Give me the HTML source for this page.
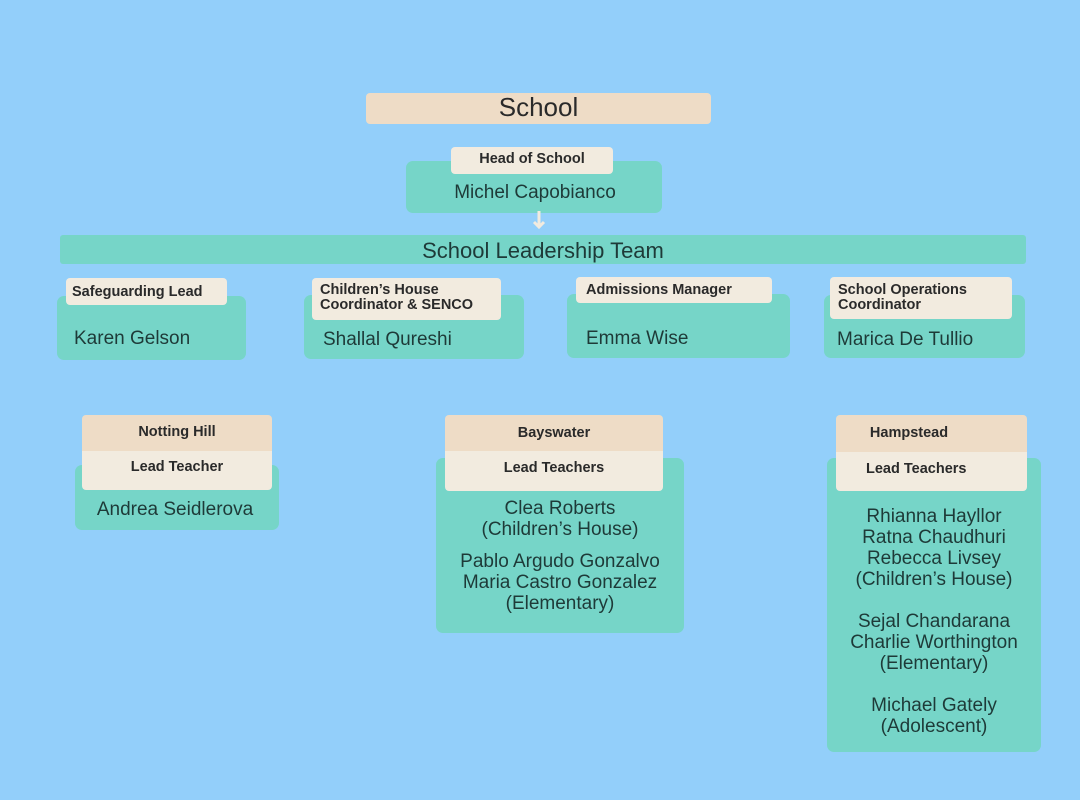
<!DOCTYPE html>
<html><head><style>
body{margin:0;width:1080px;height:800px;background:#93CFFA;position:relative;overflow:hidden;font-family:"Liberation Sans",sans-serif;color:#233;}
.a{position:absolute;box-sizing:border-box;}
.t{background:#76D5C8;border-radius:7px;}
.l{background:#F2EBDF;border-radius:4px;font-weight:bold;font-size:14.5px;color:#2a2a2a;line-height:15px;}
.h{background:#EEDCC6;border-radius:4px;font-weight:bold;font-size:14.5px;color:#2a2a2a;text-align:center;}
.n{font-size:19px;color:#1e3a38;}
.c{text-align:center;}
</style></head><body>
<div class="a h" style="left:366px;top:93px;width:345px;height:31px;font-size:26px;font-weight:normal;line-height:29px;">School</div>

<div class="a t" style="left:406px;top:161px;width:256px;height:52px;"></div>
<div class="a l c" style="left:451px;top:147px;width:162px;height:27px;line-height:24px;">Head of School</div>
<div class="a n c" style="left:406px;top:182px;width:258px;">Michel Capobianco</div>
<svg class="a" style="left:530px;top:208px" width="18" height="24"><path d="M9 3V19M4 14L9 19L14 14" stroke="#F2EBDF" stroke-width="3" fill="none"/></svg>

<div class="a t c" style="left:60px;top:235px;width:966px;height:29px;border-radius:3px;font-size:22px;line-height:31px;color:#1e3a38;">School Leadership Team</div>

<div class="a t" style="left:57px;top:296px;width:189px;height:64px;"></div>
<div class="a l" style="left:66px;top:278px;width:161px;height:27px;padding:7px 0 0 6px;">Safeguarding Lead</div>
<div class="a n" style="left:74px;top:328px;">Karen Gelson</div>

<div class="a t" style="left:304px;top:295px;width:220px;height:64px;"></div>
<div class="a l" style="left:312px;top:278px;width:189px;height:42px;padding:5px 0 0 8px;">Children’s House<br>Coordinator &amp; SENCO</div>
<div class="a n" style="left:323px;top:329px;">Shallal Qureshi</div>

<div class="a t" style="left:567px;top:294px;width:223px;height:64px;"></div>
<div class="a l" style="left:576px;top:277px;width:196px;height:26px;padding:6px 0 0 10px;">Admissions Manager</div>
<div class="a n" style="left:586px;top:328px;">Emma Wise</div>

<div class="a t" style="left:824px;top:295px;width:201px;height:63px;"></div>
<div class="a l" style="left:830px;top:277px;width:182px;height:42px;padding:6px 0 0 8px;">School Operations<br>Coordinator</div>
<div class="a n" style="left:837px;top:329px;">Marica De Tullio</div>

<div class="a t" style="left:75px;top:465px;width:204px;height:65px;"></div>
<div class="a h" style="left:82px;top:415px;width:190px;height:40px;padding-top:9px;">Notting Hill</div>
<div class="a l c" style="left:82px;top:451px;width:190px;height:39px;border-radius:0 0 4px 4px;line-height:33px;">Lead Teacher</div>
<div class="a n c" style="left:75px;top:499px;width:200px;">Andrea Seidlerova</div>

<div class="a t" style="left:436px;top:458px;width:248px;height:175px;"></div>
<div class="a h" style="left:445px;top:415px;width:218px;height:40px;padding-top:10px;">Bayswater</div>
<div class="a l c" style="left:445px;top:451px;width:218px;height:40px;border-radius:0 0 4px 4px;line-height:34px;">Lead Teachers</div>
<div class="a n c" style="left:436px;top:498px;width:248px;line-height:21px;">Clea Roberts<br>(Children’s House)</div>
<div class="a n c" style="left:436px;top:551px;width:248px;line-height:21px;">Pablo Argudo Gonzalvo<br>Maria Castro Gonzalez<br>(Elementary)</div>

<div class="a t" style="left:827px;top:458px;width:214px;height:294px;"></div>
<div class="a h" style="left:836px;top:415px;width:191px;height:41px;padding:10px 45px 0 0;">Hampstead</div>
<div class="a l" style="left:836px;top:452px;width:191px;height:39px;border-radius:0 0 4px 4px;line-height:34px;padding-left:30px;">Lead Teachers</div>
<div class="a n c" style="left:827px;top:506px;width:214px;line-height:21px;">Rhianna Hayllor<br>Ratna Chaudhuri<br>Rebecca Livsey<br>(Children’s House)</div>
<div class="a n c" style="left:827px;top:611px;width:214px;line-height:21px;">Sejal Chandarana<br>Charlie Worthington<br>(Elementary)</div>
<div class="a n c" style="left:827px;top:695px;width:214px;line-height:21px;">Michael Gately<br>(Adolescent)</div>
</body></html>
